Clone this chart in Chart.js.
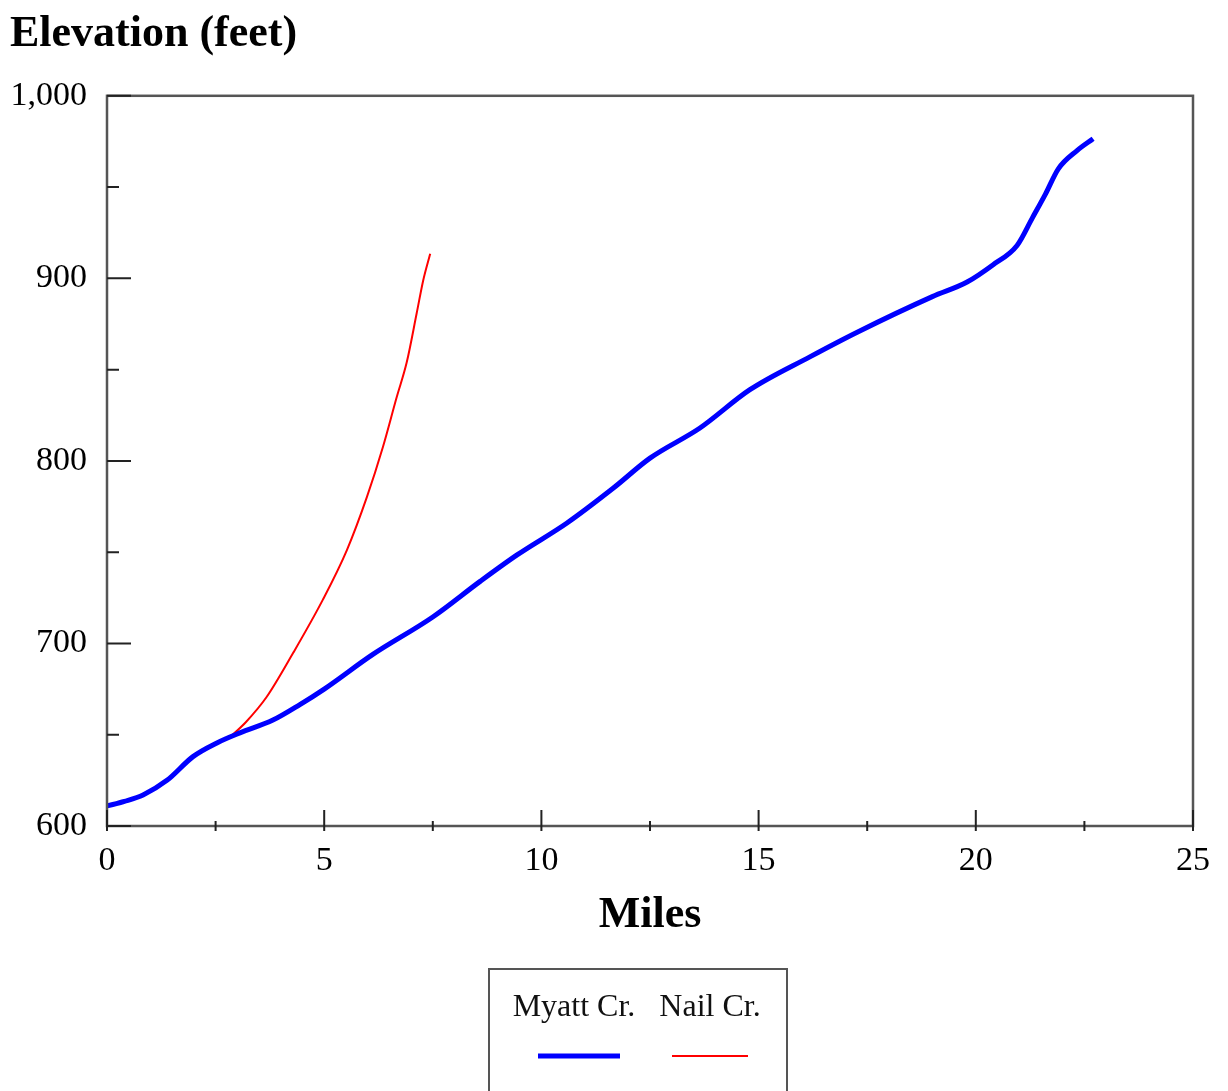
<!DOCTYPE html>
<html>
<head>
<meta charset="utf-8">
<script src="https://cdn.jsdelivr.net/npm/chart.js@4"></script>
<style>
  html, body { margin: 0; padding: 0; background: #fff; }
  #wrap { width: 1228px; height: 1091px; position: relative; }
</style>
</head>
<body>
<div id="wrap"><canvas id="profileChart"></canvas></div>
<script>
// Stream profiles: distance upstream (miles) vs. bed elevation (feet)
const myattMiles = [0, 0.4, 0.83, 1.38, 1.98, 2.53, 3.06, 3.82, 4.44, 5.0, 6.12, 7.5, 8.59, 9.44, 10.59, 11.65, 12.5, 13.65, 14.8, 16.18, 17.27, 19.0, 19.8, 20.4, 20.95, 21.3, 21.6, 21.9, 22.33, 22.7];
const myattElev  = [611, 613.5, 617, 625, 638, 645.5, 651, 658, 666.5, 675, 694, 714.5, 734, 748.5, 766, 785, 801.5, 818, 839, 857, 870.5, 890, 898, 907.5, 918, 933, 946, 960, 970, 976.5];

const nailMiles = [2.8, 3.2, 3.67, 4.29, 4.97, 5.52, 5.98, 6.35, 6.67, 6.9, 7.13, 7.28, 7.44];
const nailElev  = [648, 657, 670.5, 695, 724, 751, 780, 807.5, 835, 854, 881, 899, 913.5];

// axis ticks
const xMajorTicks = [0, 5, 10, 15, 20, 25];
const xMinorTicks = [2.5, 7.5, 12.5, 17.5, 22.5];
const yMajorTicks = [600, 700, 800, 900, 1000];
const yMinorTicks = [650, 750, 850, 950];

const seriesLabels = ['Myatt Cr.', 'Nail Cr.'];
const serif = '"Liberation Serif", "Times New Roman", serif';

function toPoints(xs, ys) {
  return xs.map((x, i) => ({ x, y: ys[i] }));
}

// Khung + vạch chia hướng vào trong (giống biểu đồ gốc)
const frameTicks = {
  id: 'frameTicks',
  afterDraw(chart) {
    const { ctx, chartArea: a, scales: { x, y } } = chart;
    ctx.save();
    ctx.strokeStyle = '#555';
    ctx.lineWidth = 2.5;
    ctx.strokeRect(a.left, a.top, a.right - a.left, a.bottom - a.top);

    ctx.strokeStyle = '#222';
    ctx.lineWidth = 2;
    ctx.beginPath();
    yMajorTicks.forEach(v => {
      const py = y.getPixelForValue(v);
      ctx.moveTo(a.left, py); ctx.lineTo(a.left + 24, py);
    });
    yMinorTicks.forEach(v => {
      const py = y.getPixelForValue(v);
      ctx.moveTo(a.left, py); ctx.lineTo(a.left + 12, py);
    });
    xMajorTicks.forEach(v => {
      const px = x.getPixelForValue(v);
      ctx.moveTo(px, a.bottom - 16); ctx.lineTo(px, a.bottom + 5);
    });
    xMinorTicks.forEach(v => {
      const px = x.getPixelForValue(v);
      ctx.moveTo(px, a.bottom - 5); ctx.lineTo(px, a.bottom + 5);
    });
    ctx.stroke();
    ctx.restore();
  }
};

// Chú thích dạng hộp: tên ở trên, mẫu đường ở dưới
const boxLegend = {
  id: 'boxLegend',
  afterDraw(chart) {
    const { ctx } = chart;
    const sets = chart.data.datasets;
    ctx.save();
    ctx.strokeStyle = '#555';
    ctx.lineWidth = 2;
    ctx.strokeRect(489, 969, 298, 140);

    ctx.font = '32px ' + serif;
    ctx.fillStyle = '#111';
    ctx.textAlign = 'center';
    ctx.textBaseline = 'middle';
    const textX = [574, 710];
    const lineX = [579, 710];
    const halfLen = [41, 38];
    sets.forEach((ds, i) => {
      ctx.fillText(ds.label, textX[i], 1008);
      ctx.strokeStyle = ds.borderColor;
      ctx.lineWidth = ds.borderWidth;
      ctx.beginPath();
      ctx.moveTo(lineX[i] - halfLen[i], 1056);
      ctx.lineTo(lineX[i] + halfLen[i], 1056);
      ctx.stroke();
    });
    ctx.restore();
  }
};

new Chart(document.getElementById('profileChart'), {
  type: 'line',
  data: {
    datasets: [
      {
        label: seriesLabels[0],
        data: toPoints(myattMiles, myattElev),
        borderColor: '#0000ff',
        borderWidth: 5,
        pointRadius: 0,
        cubicInterpolationMode: 'monotone',
        fill: false
      },
      {
        label: seriesLabels[1],
        data: toPoints(nailMiles, nailElev),
        borderColor: '#ff0000',
        borderWidth: 2,
        pointRadius: 0,
        cubicInterpolationMode: 'monotone',
        fill: false
      }
    ]
  },
  options: {
    responsive: true,
    maintainAspectRatio: false,
    animation: false,
    layout: { padding: { left: 10, right: 35, top: 0, bottom: 149 } },
    plugins: {
      legend: { display: false },
      tooltip: { enabled: false },
      title: {
        display: true,
        text: 'Elevation (feet)',
        align: 'start',
        color: '#000',
        font: { family: serif, size: 44, weight: 'bold', lineHeight: 1.2 },
        padding: { top: 8, bottom: 35 }
      }
    },
    scales: {
      x: {
        type: 'linear',
        min: 0,
        max: 25,
        grid: { display: false, drawTicks: false },
        border: { display: false },
        ticks: {
          stepSize: 5,
          padding: 15,
          color: '#000',
          font: { family: serif, size: 34 }
        },
        title: {
          display: true,
          text: 'Miles',
          color: '#000',
          font: { family: serif, size: 44, weight: 'bold', lineHeight: 1.2 },
          padding: { top: 0, bottom: 0 }
        },
        afterFit(scale) { scale.height = 116; }
      },
      y: {
        min: 600,
        max: 1000,
        grid: { display: false, drawTicks: false },
        border: { display: false },
        ticks: {
          stepSize: 100,
          padding: 20,
          color: '#000',
          font: { family: serif, size: 34 },
          callback: v => v.toLocaleString('en-US')
        },
        afterFit(scale) { scale.width = 97; }
      }
    }
  },
  plugins: [frameTicks, boxLegend]
});
</script>
</body>
</html>
